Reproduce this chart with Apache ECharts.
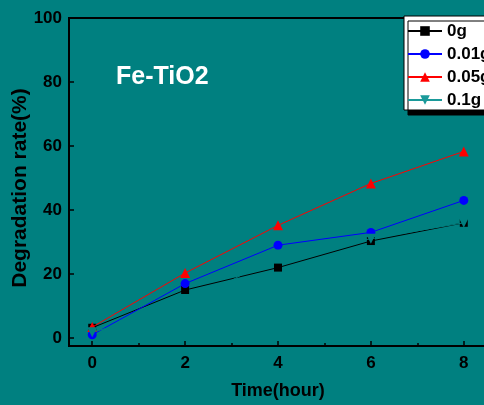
<!DOCTYPE html>
<html>
<head>
<meta charset="utf-8">
<script src="https://cdn.jsdelivr.net/npm/echarts@6/dist/echarts.min.js"></script>
<style>
  html, body { margin: 0; padding: 0; background: #008080; }
  #chart { width: 484px; height: 405px; }
</style>
</head>
<body>
<div id="chart"></div>
<script>
// data
const hours = [0, 2, 4, 6, 8];
const names = ['0g', '0.01g', '0.05g', '0.1g'];
const g0 = [3.2, 15, 22, 30.3, 36];
const g001 = [1, 17, 29, 33, 43];
const g005 = [3.4, 20.3, 35.2, 48.3, 58.3];
const g01 = [1.8, 10, 26, 31, 36];
const yTicks = [0, 20, 40, 60, 80, 100];
const xTicks = [0, 2, 4, 6, 8];
const xMinor = [1, 3, 5, 7];

const FONT = 'Arial, "Liberation Sans", sans-serif';
const pts = (ys) => hours.map((h, i) => [h, ys[i]]);

const look = [
  { color: '#000000', symbol: 'rect', size: 8, rot: 0, data: g0 },
  { color: '#0000ff', symbol: 'circle', size: 9, rot: 0, data: g001 },
  { color: '#ff0000', symbol: 'triangle', size: 10, rot: 0, data: g005 },
  { color: '#008080', symbol: 'triangle', size: 10, rot: 180, data: g01 },
];
const legendColor = ['#000000', '#0000ff', '#ff0000', '#1a9a9a'];

const chart = echarts.init(document.getElementById('chart'));
chart.setOption({
  backgroundColor: '#008080',
  animation: false,
  textStyle: { fontFamily: FONT },
  title: {
    text: 'Fe-TiO2', left: 111, top: 60,
    textStyle: { color: '#fff', fontSize: 25, fontWeight: 'bold', fontFamily: FONT },
  },
  grid: {
    left: 69, top: 18, right: -3, bottom: 59, outerBoundsMode: 'none', containLabel: false,
    show: true, borderColor: '#000', borderWidth: 2,
  },
  legend: {
    orient: 'vertical', left: 404, top: 16,
    data: names.map((n, i) => ({ name: n, itemStyle: { color: legendColor[i] }, lineStyle: { color: legendColor[i] } })),
    backgroundColor: '#fff', borderColor: '#000', borderWidth: 1,
    shadowColor: '#000', shadowBlur: 0, shadowOffsetX: 4, shadowOffsetY: 5,
    padding: [6, 40, 1, 3], itemGap: 5, itemWidth: 34, itemHeight: 12,
    textStyle: { color: '#000', fontSize: 17, fontWeight: 'bold', fontFamily: FONT, lineHeight: 18 },
  },
  xAxis: [{
    type: 'value', min: -0.5, max: 8.5,
    name: 'Time(hour)', nameLocation: 'middle', nameGap: 36,
    nameTextStyle: { color: '#000', fontSize: 18, fontWeight: 'bold', fontFamily: FONT },
    axisLine: { onZero: false, lineStyle: { color: '#000', width: 2 } },
    axisTick: { inside: true, length: 5, lineStyle: { color: '#000', width: 1.5 }, customValues: xTicks },
    axisLabel: { color: '#000', fontSize: 17, fontWeight: 'bold', fontFamily: FONT, margin: 9, customValues: xTicks },
    splitLine: { show: false },
  }, {
    type: 'value', min: -0.5, max: 8.5, position: 'bottom',
    axisLine: { show: false, onZero: false },
    axisTick: { inside: true, length: 3, lineStyle: { color: '#000', width: 1.5 }, customValues: xMinor },
    axisLabel: { show: false },
    splitLine: { show: false },
  }],
  yAxis: {
    type: 'value', min: -2.5, max: 100,
    name: 'Degradation rate(%)', nameLocation: 'middle', nameGap: 38, nameMoveOverlap: false,
    nameTextStyle: { color: '#000', fontSize: 21, fontWeight: 'bold', fontFamily: FONT, padding: [0, 12, 0, 0] },
    axisLine: { show: true, onZero: false, lineStyle: { color: '#000', width: 2 } },
    axisTick: { show: true, inside: true, length: 5, lineStyle: { color: '#000', width: 1.5 }, customValues: yTicks },
    axisLabel: { color: '#000', fontSize: 17, fontWeight: 'bold', fontFamily: FONT, margin: 7, customValues: yTicks },
    splitLine: { show: false },
  },
  series: look.map((s, i) => ({
    name: names[i], type: 'line', data: pts(s.data),
    symbol: s.symbol, symbolSize: s.size, symbolRotate: s.rot, showSymbol: true,
    lineStyle: { color: s.color, width: 1 },
    itemStyle: { color: s.color, borderWidth: 0 },
    z: 2 + i,
  })),
});
</script>
</body>
</html>
